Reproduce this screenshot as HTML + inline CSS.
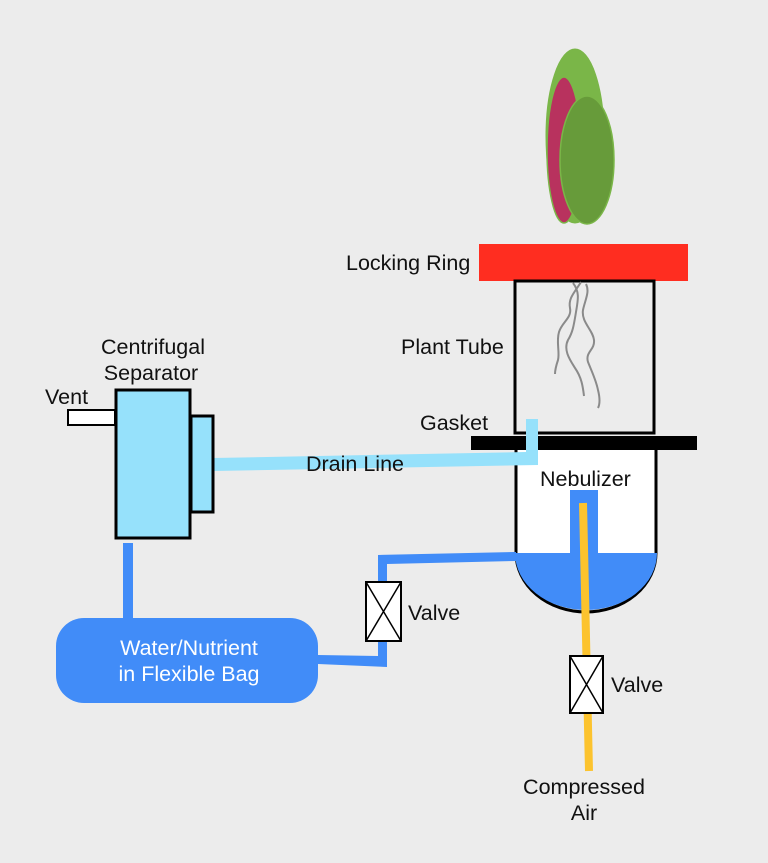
<!DOCTYPE html>
<html><head><meta charset="utf-8"><style>
html,body{margin:0;padding:0;background:#ececec;}
svg{display:block;}
text{font-family:"Liberation Sans",sans-serif;font-size:21.5px;fill:#111;}
</style></head><body>
<svg width="768" height="863" viewBox="0 0 768 863" xmlns="http://www.w3.org/2000/svg">
<rect width="768" height="863" fill="#ececec"/>
<!-- plant -->
<ellipse cx="575" cy="136" rx="29" ry="87" fill="#7ab648" stroke="#7ab648"/>
<ellipse cx="564" cy="150" rx="17" ry="73" fill="#b8325e" stroke="#7ab648" stroke-width="1.5"/>
<ellipse cx="587" cy="160" rx="27" ry="64" fill="#679b3a" stroke="#7ab648" stroke-width="1.5"/>
<!-- locking ring -->
<rect x="479" y="244" width="209" height="37" fill="#ff2d20"/>
<text x="346" y="270">Locking Ring</text>
<!-- plant tube -->
<rect x="515" y="281" width="139" height="152" fill="none" stroke="#000" stroke-width="3"/>
<text x="401" y="354">Plant Tube</text>
<!-- roots -->
<g fill="none" stroke="#8a8a8a" stroke-width="2">
<path d="M581,282 C575,292 568,298 570,308 C572,318 562,322 559,332 C556,342 560,352 558,360 C556,366 555,370 555,374"/>
<path d="M573,283 C580,292 578,300 576,312 C574,324 573,332 568,340 C563,350 570,360 575,368 C582,378 583,388 584,396"/>
<path d="M586,284 C590,292 585,300 583,310 C581,322 593,330 594,340 C595,350 585,352 588,362 C592,372 596,380 598,390 C600,398 600,404 598,408"/>
</g>
<!-- gasket -->
<rect x="471" y="436" width="226" height="14" fill="#000"/>
<text x="420" y="430">Gasket</text>
<!-- nebulizer -->
<rect x="516" y="450" width="141" height="103" fill="#fff"/>
<path d="M516,450 L516,553 A70,59 0 0 0 656,553 L656,450" fill="none" stroke="#000" stroke-width="3"/>
<path d="M515,538 L515,553 A71,57 0 0 0 657,553 L657,538 L657,553 L515,553 Z" fill="#418cf8"/>
<rect x="570" y="490" width="28" height="64" fill="#418cf8"/>
<text x="540" y="486">Nebulizer</text>
<!-- yellow air line -->
<line x1="583" y1="503" x2="589" y2="771" stroke="#fcc32e" stroke-width="8"/>
<!-- valve 2 -->
<rect x="570" y="656" width="33" height="57" fill="#fff" stroke="#000" stroke-width="2"/>
<path d="M570,656 L603,713 M603,656 L570,713" stroke="#000" stroke-width="1.5"/>
<text x="611" y="692">Valve</text>
<text x="584" y="794" text-anchor="middle">Compressed</text>
<text x="584" y="820" text-anchor="middle">Air</text>
<!-- drain line -->
<polygon points="213,458 526,452 526,419 538,419 538,465 213,471" fill="#96e1fb"/>
<text x="306" y="471">Drain Line</text>
<!-- separator -->
<rect x="68" y="410" width="47" height="15" fill="#fff" stroke="#000" stroke-width="2"/>
<rect x="116" y="390" width="74" height="148" fill="#96e1fb" stroke="#000" stroke-width="3"/>
<rect x="191" y="416" width="22" height="96" fill="#96e1fb" stroke="#000" stroke-width="3"/>
<text x="153" y="354" text-anchor="middle">Centrifugal</text>
<text x="151" y="380" text-anchor="middle">Separator</text>
<text x="45" y="404">Vent</text>
<!-- blue lines -->
<rect x="123" y="543" width="10" height="76" fill="#418cf8"/>
<polygon points="318,655 378,656 378,555 516,552 516,561 387,564 387,667 318,664" fill="#418cf8"/>
<!-- valve 1 -->
<rect x="366" y="582" width="35" height="59" fill="#fff" stroke="#000" stroke-width="2"/>
<path d="M366,582 L401,641 M401,582 L366,641" stroke="#000" stroke-width="1.5"/>
<text x="408" y="620">Valve</text>
<!-- bag -->
<rect x="56" y="618" width="262" height="85" rx="28" fill="#418cf8"/>
<text x="189" y="655" text-anchor="middle" style="fill:#fff">Water/Nutrient</text>
<text x="189" y="681" text-anchor="middle" style="fill:#fff">in Flexible Bag</text>
</svg>
</body></html>
